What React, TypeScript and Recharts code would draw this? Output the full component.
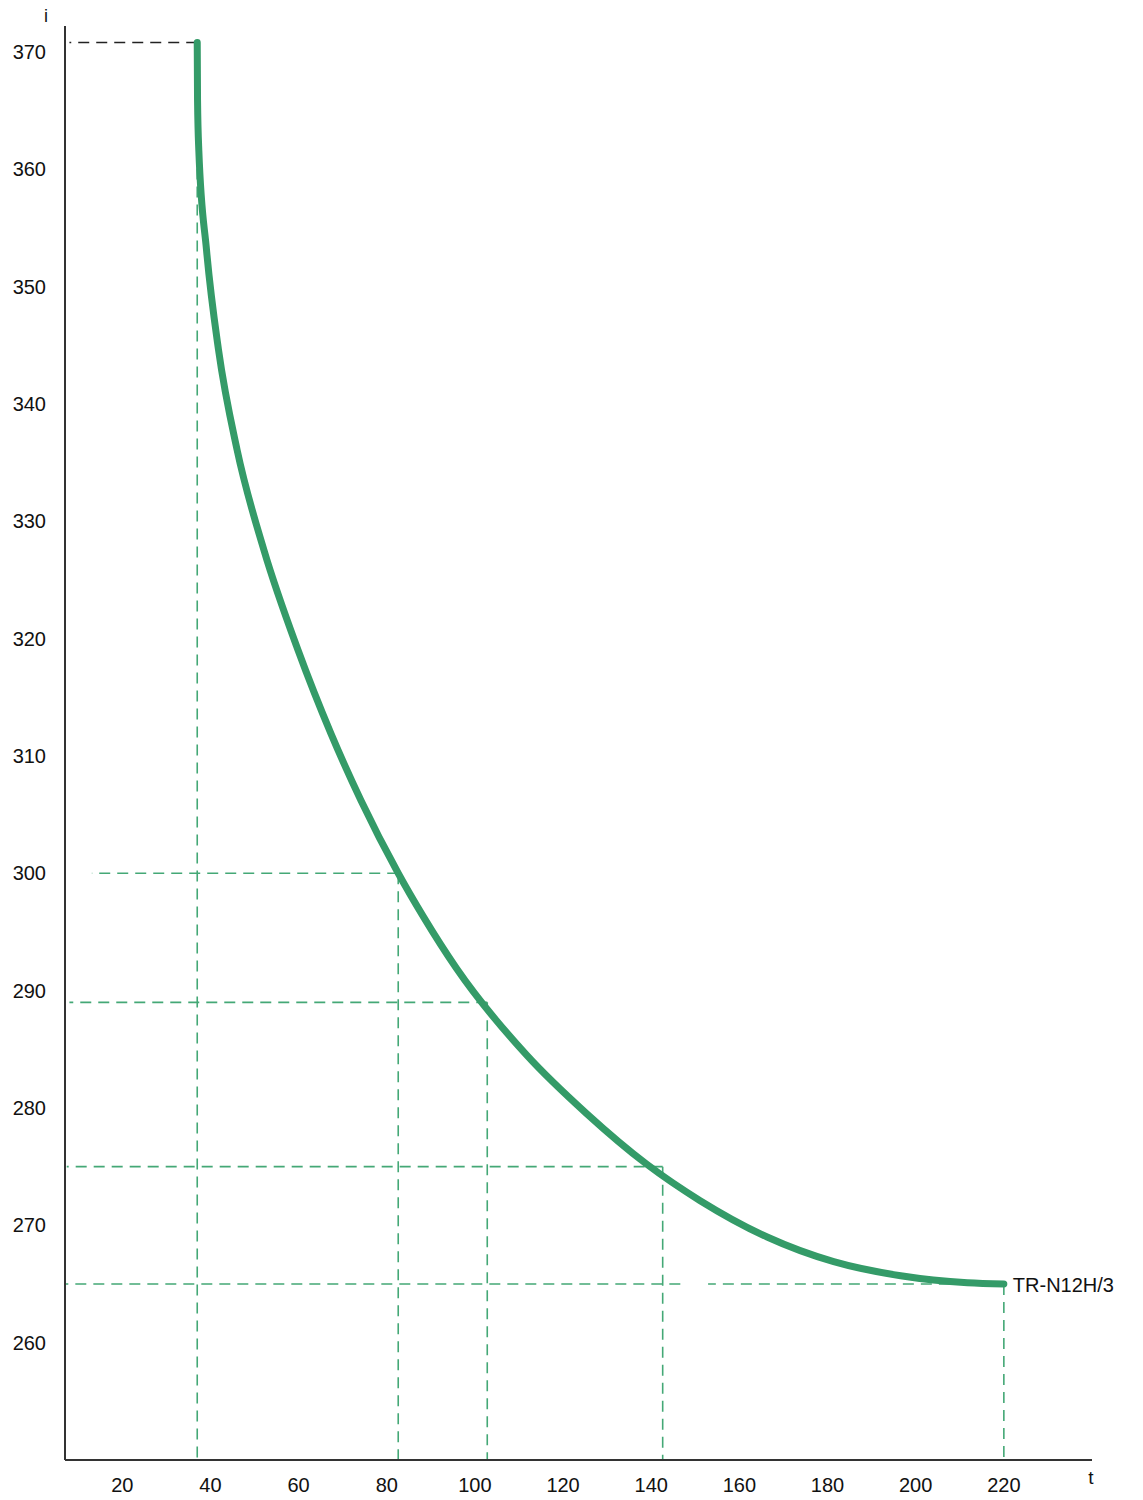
import React from 'react';
import { LineChart, Line, XAxis, YAxis, ReferenceLine, ReferenceDot } from 'recharts';

// Curve TR-N12H/3 : t (x) vs i (y)
const curveT = [37, 37.07, 37.36, 39.11, 41.83, 46.03, 52.16, 59.88, 67.34, 74.15, 82.6, 88.3, 95.8, 111.75, 125.4, 139.0, 151.1, 166.3, 181.4, 196.6, 211.75, 220];
const curveI = [370.8, 365.9, 361.6, 353.1, 344.6, 336.1, 327.5, 319.0, 311.9, 306.2, 300.0, 296.3, 291.9, 284.5, 279.5, 275.2, 272.1, 269.0, 266.9, 265.7, 265.1, 265];

const xTicks = [20, 40, 60, 80, 100, 120, 140, 160, 180, 200, 220];
const yTicks = [260, 270, 280, 290, 300, 310, 320, 330, 340, 350, 360, 370];

const seriesName = 'TR-N12H/3';

// guide lines: point on curve (t, i) and where the horizontal guide ends on the left
const guideT = [82.6, 102.8, 142.6, 220];
const guideI = [300, 289, 275, 265];
const guideLeftT = [13.1, 8, 7.4, 152.9];
const startPoint = { t: 37, i: 370.8, leftT: 8 };
const gapSegment = { fromT: 146.6, toT: 7, i: 265 };

const data = curveT.map((t, k) => ({ t, i: curveI[k] }));

const GREEN = '#349b68';
const DASH_GREEN = '#44a876';
const AXIS = '#333333';
const FONT = '"Liberation Sans", Arial, sans-serif';

export default function App() {
  return (
    <div style={{ position: 'absolute', left: 0, top: 0, width: 1143, height: 1500, background: '#fff' }}>
      <LineChart width={1143} height={1500} data={data} margin={{ top: 26, right: 51, bottom: 0, left: 0 }}>
        <XAxis
          dataKey="t"
          type="number"
          domain={[7, 240]}
          allowDataOverflow
          ticks={xTicks}
          tickLine={false}
          tickSize={0}
          tickMargin={18}
          height={40}
          axisLine={{ stroke: AXIS, strokeWidth: 2 }}
          tick={{ fill: '#111', fontSize: 20, fontFamily: FONT }}
          label={(props: any) => {
            const vb = props.viewBox;
            return (
              <text x={vb.x + vb.width - 1} y={vb.y + 24} textAnchor="middle" fill="#111" fontSize={19} fontFamily={FONT}>t</text>
            );
          }}
        />
        <YAxis
          dataKey="i"
          type="number"
          domain={[250, 372.2]}
          allowDataOverflow
          ticks={yTicks}
          tickLine={false}
          tickSize={0}
          tickMargin={19}
          width={65}
          axisLine={{ stroke: AXIS, strokeWidth: 2 }}
          tick={{ fill: '#111', fontSize: 20, fontFamily: FONT }}
          label={(props: any) => {
            const vb = props.viewBox;
            return (
              <text x={46} y={vb.y - 4} textAnchor="middle" fill="#111" fontSize={18} fontFamily={FONT}>i</text>
            );
          }}
        />
        {/* black dashed at start level */}
        <ReferenceLine
          segment={[{ x: startPoint.t, y: startPoint.i }, { x: startPoint.leftT, y: startPoint.i }]}
          stroke="#222"
          strokeWidth={1.6}
          strokeDasharray="11 7"
        />
        {/* vertical at start */}
        <ReferenceLine
          segment={[{ x: startPoint.t, y: startPoint.i }, { x: startPoint.t, y: 250 }]}
          stroke={DASH_GREEN}
          strokeWidth={1.6}
          strokeDasharray="11 7"
        />
        {guideT.map((t, k) => (
          <ReferenceLine
            key={'h' + k}
            segment={[{ x: t, y: guideI[k] }, { x: guideLeftT[k], y: guideI[k] }]}
            stroke={DASH_GREEN}
            strokeWidth={1.6}
            strokeDasharray="11 7"
          />
        ))}
        <ReferenceLine
          segment={[{ x: gapSegment.fromT, y: gapSegment.i }, { x: gapSegment.toT, y: gapSegment.i }]}
          stroke={DASH_GREEN}
          strokeWidth={1.6}
          strokeDasharray="11 7"
        />
        {guideT.map((t, k) => (
          <ReferenceLine
            key={'v' + k}
            segment={[{ x: t, y: guideI[k] }, { x: t, y: 250 }]}
            stroke={DASH_GREEN}
            strokeWidth={1.6}
            strokeDasharray="11 7"
          />
        ))}
        <Line
          type="monotone"
          dataKey="i"
          stroke={GREEN}
          strokeWidth={7}
          strokeLinecap="round"
          dot={false}
          activeDot={false}
          isAnimationActive={false}
        />
        <ReferenceDot
          x={curveT[curveT.length - 1]}
          y={curveI[curveI.length - 1]}
          r={0}
          shape={(p: any) => (
            <text x={p.cx + 9} y={p.cy} dy="0.42em" fill="#111" fontSize={20} fontFamily={FONT}>{seriesName}</text>
          )}
        />
      </LineChart>
    </div>
  );
}
